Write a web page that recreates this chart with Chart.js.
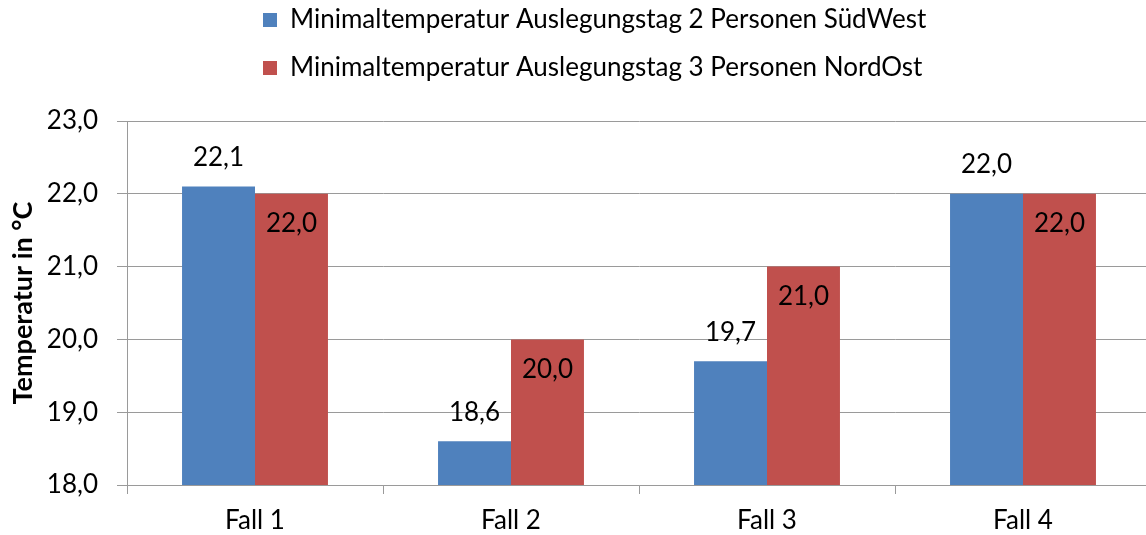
<!DOCTYPE html>
<html>
<head>
<meta charset="utf-8">
<script src="https://cdn.jsdelivr.net/npm/chart.js@4/dist/chart.umd.min.js"></script>
<style>
html, body { margin: 0; padding: 0; background: #fff; overflow: hidden; }
#wrap { width: 1152px; height: 535px; }
</style>
</head>
<body>
<div id="wrap"><canvas id="c" width="1152" height="535"></canvas></div>
<script>
const categories = ['Fall 1', 'Fall 2', 'Fall 3', 'Fall 4'];
const seriesNames = [
  'Minimaltemperatur Auslegungstag 2 Personen SüdWest',
  'Minimaltemperatur Auslegungstag 3 Personen NordOst'
];
const suedWest = [22.1, 18.6, 19.7, 22.0];
const nordOst = [22.0, 20.0, 21.0, 22.0];
const yMin = 18, yMax = 23, yStep = 1;
const yTitle = 'Temperatur in °C';

const FONT = "Lato, 'Open Sans', sans-serif";
const FS = 26;
const fmt = v => Number(v).toFixed(1).replace('.', ',');

const valueLabels = {
  id: 'valueLabels',
  afterDatasetsDraw(chart) {
    const ctx = chart.ctx;
    ctx.save();
    ctx.font = FS + 'px ' + FONT;
    ctx.fillStyle = '#000';
    ctx.textAlign = 'center';
    ctx.textBaseline = 'middle';
    chart.data.datasets.forEach((ds, di) => {
      const meta = chart.getDatasetMeta(di);
      meta.data.forEach((bar, i) => {
        const y = di === 0 ? bar.y - 29 : bar.y + 30;
        ctx.fillText(fmt(ds.data[i]), bar.x, y);
      });
    });
    ctx.restore();
  }
};

const legendShift = {
  id: 'legendShift',
  afterLayout(chart) {
    const lg = chart.legend;
    const pad = lg.options.labels.padding;
    lg.left = 263 - pad;
    lg.top = -15;
  }
};

new Chart(document.getElementById('c'), {
  type: 'bar',
  data: {
    labels: categories,
    datasets: [
      { label: seriesNames[0], data: suedWest, backgroundColor: '#4F81BD', borderWidth: 0 },
      { label: seriesNames[1], data: nordOst, backgroundColor: '#C0504D', borderWidth: 0 }
    ]
  },
  options: {
    responsive: false,
    animation: false,
    layout: { padding: { top: 15, right: 1, left: 0, bottom: 0 } },
    datasets: { bar: { categoryPercentage: 0.57, barPercentage: 1.0 } },
    plugins: {
      tooltip: { enabled: false },
      legend: {
        position: 'top',
        align: 'start',
        labels: {
          boxWidth: 14,
          boxHeight: 14,
          padding: 22,
          color: '#000',
          font: { family: FONT, size: FS }
        }
      }
    },
    scales: {
      x: {
        offset: true,
        grid: { display: true, drawOnChartArea: false, offset: true, tickLength: 9, color: '#9a9a9a' },
        border: { color: '#9a9a9a' },
        ticks: { color: '#000', padding: 11, font: { family: FONT, size: FS } },
        afterFit(s) { s.height = 50; }
      },
      y: {
        min: yMin, max: yMax,
        ticks: { stepSize: yStep, color: '#000', padding: 19, font: { family: FONT, size: FS }, callback: v => fmt(v) },
        grid: { color: '#9a9a9a', tickLength: 10 },
        border: { color: '#9a9a9a' },
        title: { display: true, text: yTitle, color: '#000', padding: { top: 7, bottom: 0 }, font: { family: FONT, size: 27, weight: 'bold' } },
        afterFit(s) { s.width = 127; }
      }
    }
  },
  plugins: [valueLabels, legendShift]
});
</script>
</body>
</html>
